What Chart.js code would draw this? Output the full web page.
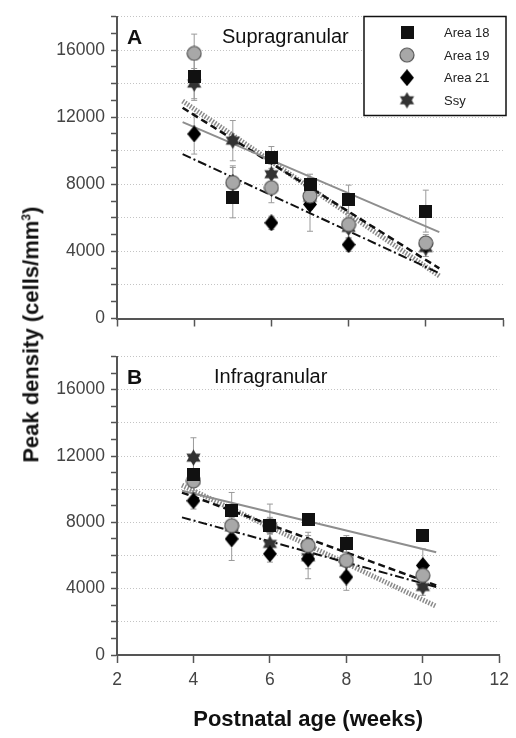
<!DOCTYPE html>
<html>
<head>
<meta charset="utf-8">
<title>Peak density by postnatal age</title>
<script src="https://cdn.jsdelivr.net/npm/chart.js@4.4.1/dist/chart.umd.min.js"></script>
<style>
  body { margin: 0; background: #fff; }
  #wrap { position: relative; width: 516px; height: 738px; overflow: hidden;
          font-family: "Liberation Sans", Arial, sans-serif; }
  #chartA { position: absolute; left: 0; top: 0; }
  #chartB { position: absolute; left: 0; top: 340px; }
  #yTitle { position: absolute; left: -171px; top: 320px; width: 400px; text-align: center;
            font-weight: bold; font-size: 22px; line-height: 24px; color: #111;
            transform: rotate(-90deg); white-space: nowrap; }
  #yTitle sup { font-size: 12px; }
</style>
</head>
<body>
<div id="wrap">
  <canvas id="chartA" width="516" height="335"></canvas>
  <canvas id="chartB" width="516" height="398"></canvas>
  <div id="yTitle">Peak density (cells/mm<sup>3</sup>)</div>
</div>
<script>
const FONT = '"Liberation Sans", Arial, sans-serif';
Chart.defaults.font.family = FONT;

// ages sampled (weeks) and the span of the regression lines
const weeks = [4, 5, 6, 7, 8, 10];
const fitWeeks = [3.7, 10.35];

// supragranular layers
const supraArea18 = [14400, 7200, 9600, 8000, 7100, 6400];
const supraArea18Err = [1400, 1200, 650, 600, 850, 1250];
const supraArea19 = [15800, 8100, 7800, 7300, 5600, 4500];
const supraArea19Err = [1150, 900, 900, 700, 500, 500];
const supraArea21 = [11000, 8100, 5700, 6800, 4400, 4400];
const supraArea21Err = [1200, 1000, 400, 1600, 400, 400];
const supraSsy = [14000, 10600, 8600, 7200, 5400, 4200];
const supraSsyErr = [900, 1200, 600, 700, 600, 500];
const supraFit18 = [11700, 5150];
const supraFit19 = [12560, 2990];
const supraFit21 = [9800, 2700];
const supraFitSsy = [12960, 2540];

// infragranular layers
const infraArea18 = [10900, 8700, 7800, 8200, 6700, 7200];
const infraArea18Err = [800, 1100, 500, 300, 500, 300];
const infraArea19 = [10500, 7800, 7800, 6600, 5700, 4800];
const infraArea19Err = [600, 800, 1300, 800, 900, 700];
const infraArea21 = [9300, 7000, 6100, 5800, 4700, 5400];
const infraArea21Err = [500, 1300, 500, 600, 800, 1000];
const infraSsy = [11900, 7700, 6700, 5900, 5600, 4100];
const infraSsyErr = [1200, 700, 600, 1300, 600, 500];
const infraFit18 = [9900, 6200];
const infraFit19 = [9800, 4200];
const infraFit21 = [8300, 4100];
const infraFitSsy = [10240, 2940];

const seriesLabels = ['Area 18', 'Area 19', 'Area 21', 'Ssy'];

// marker glyphs, drawn once on small canvases
function markerCanvas(w, h, draw) {
  const c = document.createElement('canvas');
  c.width = w; c.height = h;
  draw(c.getContext('2d'), w, h);
  return c;
}
const squareMark = markerCanvas(13, 13, (g) => {
  g.fillStyle = '#111';
  g.fillRect(0, 0, 13, 13);
});
const circleMark = markerCanvas(16, 16, (g) => {
  g.beginPath();
  g.arc(8, 8, 7, 0, Math.PI * 2);
  g.fillStyle = '#a8a8a8';
  g.fill();
  g.strokeStyle = '#555';
  g.lineWidth = 1.2;
  g.stroke();
});
const diamondMark = markerCanvas(14, 17, (g) => {
  g.beginPath();
  g.moveTo(7, 0); g.lineTo(14, 8.5); g.lineTo(7, 17); g.lineTo(0, 8.5);
  g.closePath();
  g.fillStyle = '#000';
  g.fill();
});
const starMark = markerCanvas(17, 17, (g) => {
  const r = 8.2;
  g.fillStyle = '#333';
  [-90, 90].forEach(start => {
    g.beginPath();
    for (let k = 0; k < 3; k++) {
      const a = (start + k * 120) * Math.PI / 180;
      const px = 8.5 + r * Math.cos(a), py = 8.5 + r * Math.sin(a);
      if (k === 0) g.moveTo(px, py); else g.lineTo(px, py);
    }
    g.closePath();
    g.fill();
  });
});
const markers = [squareMark, circleMark, diamondMark, starMark];

const toPoints = (xs, ys) => xs.map((x, i) => ({ x: x, y: ys[i] }));

// fit line styles: solid grey, dashed, dash-dot, thick dotted grey
const fitStyles = [
  { borderColor: '#8e8e8e', borderWidth: 2, borderDash: [] },
  { borderColor: '#111', borderWidth: 2.5, borderDash: [7, 4] },
  { borderColor: '#111', borderWidth: 2, borderDash: [9, 3, 2, 3] },
  { borderColor: '#8a8a8a', borderWidth: 5, borderDash: [1.5, 1.5] }
];

function buildDatasets(values, errors, fits) {
  const sets = values.map((vals, i) => ({
    label: seriesLabels[i],
    data: toPoints(weeks, vals),
    errors: errors[i],
    pointStyle: markers[i],
    pointRadius: 7,
    showLine: false
  }));
  fits.forEach((fit, i) => {
    sets.push(Object.assign({
      label: seriesLabels[i] + ' fit',
      data: toPoints(fitWeeks, fit),
      showLine: true,
      pointRadius: 0,
      fill: false
    }, fitStyles[i]));
  });
  return sets;
}

// vertical error bars with caps, under the markers
const errorBars = {
  id: 'errorBars',
  beforeDatasetsDraw(chart) {
    const { ctx, scales: { x, y } } = chart;
    ctx.save();
    ctx.strokeStyle = '#9a9a9a';
    ctx.lineWidth = 1;
    chart.data.datasets.forEach(ds => {
      if (!ds.errors) return;
      ds.data.forEach((p, i) => {
        const px = x.getPixelForValue(p.x);
        const top = y.getPixelForValue(p.y + ds.errors[i]);
        const bot = y.getPixelForValue(p.y - ds.errors[i]);
        ctx.beginPath();
        ctx.moveTo(px, top); ctx.lineTo(px, bot);
        ctx.moveTo(px - 3, top); ctx.lineTo(px + 3, top);
        ctx.moveTo(px - 3, bot); ctx.lineTo(px + 3, bot);
        ctx.stroke();
      });
    });
    ctx.restore();
  }
};

// panel letter and layer name in the top-left corner
const panelTitle = {
  id: 'panelTitle',
  afterDraw(chart, args, opts) {
    const { ctx, chartArea } = chart;
    ctx.save();
    ctx.fillStyle = '#111';
    ctx.textBaseline = 'alphabetic';
    ctx.font = 'bold 21px ' + FONT;
    ctx.fillText(opts.letter, chartArea.left + 10, chartArea.top + 27);
    ctx.font = '20px ' + FONT;
    ctx.fillText(opts.name, chartArea.left + opts.nameX, chartArea.top + 26);
    ctx.restore();
  }
};

// boxed legend with markers only
const boxLegend = {
  id: 'boxLegend',
  afterDraw(chart) {
    const { ctx, chartArea } = chart;
    const items = chart.data.datasets.filter(ds => ds.errors);
    const w = 142, h = 99;
    const left = chartArea.right - 139, top = chartArea.top;
    ctx.save();
    ctx.fillStyle = '#fff';
    ctx.fillRect(left, top, w, h);
    ctx.strokeStyle = '#111';
    ctx.lineWidth = 1.5;
    ctx.strokeRect(left, top, w, h);
    ctx.font = '13px ' + FONT;
    ctx.fillStyle = '#222';
    ctx.textBaseline = 'middle';
    items.forEach((ds, i) => {
      const cy = top + 16 + i * 22.6;
      const img = ds.pointStyle;
      ctx.drawImage(img, left + 43 - img.width / 2, cy - img.height / 2);
      ctx.fillText(ds.label, left + 80, cy + 1);
    });
    ctx.restore();
  }
};

function makeOptions(panel) {
  const bottomPanel = panel.letter === 'B';
  return {
    responsive: false,
    animation: false,
    events: [],
    layout: { padding: { top: bottomPanel ? 15 : 8, right: 13, left: 0, bottom: 0 } },
    plugins: {
      legend: { display: false },
      tooltip: { enabled: false },
      panelTitle: panel
    },
    scales: {
      x: {
        type: 'linear',
        min: 2, max: 12,
        afterFit(scale) { scale.height = bottomPanel ? 83 : 8; },
        ticks: {
          display: bottomPanel,
          stepSize: 2,
          color: '#444',
          font: { size: 17.5 },
          padding: 7
        },
        grid: { drawOnChartArea: false, tickLength: 8, tickColor: '#555', tickWidth: 1.5 },
        border: { color: '#555', width: 2 },
        title: {
          display: bottomPanel,
          text: 'Postnatal age (weeks)',
          color: '#111',
          font: { size: 22, weight: 'bold' },
          padding: { top: 0, bottom: 5 }
        }
      },
      y: {
        min: 0, max: 18000,
        afterFit(scale) { scale.width = 117; },
        ticks: {
          stepSize: 1000,
          autoSkip: false,
          color: '#444',
          font: { size: 17.5 },
          padding: 6,
          callback: v => (v % 4000 === 0 ? String(v) : '')
        },
        grid: {
          color: c => (c.tick && c.tick.value > 0 && c.tick.value % 2000 === 0 ? '#c4c4c4' : 'rgba(0,0,0,0)'),
          lineWidth: 1,
          tickLength: 6,
          tickColor: '#555',
          tickWidth: 1.5
        },
        border: { color: '#555', width: 2, dash: [1, 2] }
      }
    }
  };
}

new Chart(document.getElementById('chartA'), {
  type: 'scatter',
  data: {
    datasets: buildDatasets(
      [supraArea18, supraArea19, supraArea21, supraSsy],
      [supraArea18Err, supraArea19Err, supraArea21Err, supraSsyErr],
      [supraFit18, supraFit19, supraFit21, supraFitSsy])
  },
  options: makeOptions({ letter: 'A', name: 'Supragranular', nameX: 105 }),
  plugins: [errorBars, panelTitle, boxLegend]
});

new Chart(document.getElementById('chartB'), {
  type: 'scatter',
  data: {
    datasets: buildDatasets(
      [infraArea18, infraArea19, infraArea21, infraSsy],
      [infraArea18Err, infraArea19Err, infraArea21Err, infraSsyErr],
      [infraFit18, infraFit19, infraFit21, infraFitSsy])
  },
  options: makeOptions({ letter: 'B', name: 'Infragranular', nameX: 97 }),
  plugins: [errorBars, panelTitle]
});
</script>
</body>
</html>
